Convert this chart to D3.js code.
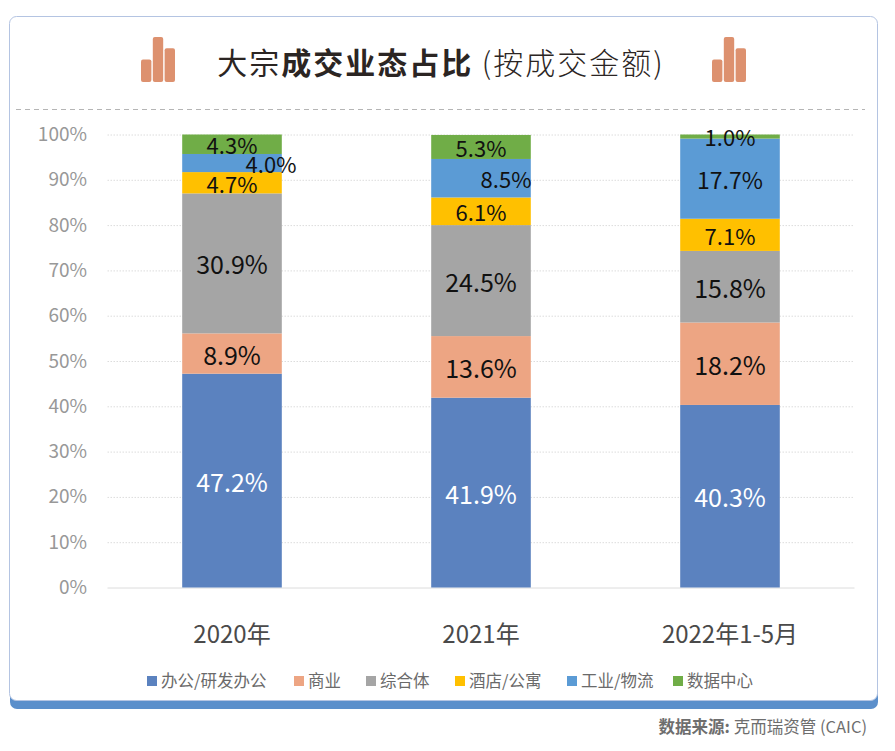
<!DOCTYPE html>
<html>
<head>
<meta charset="utf-8">
<style>
  html, body { margin: 0; padding: 0; background: #fff; }
  text { font-family: "Noto Sans CJK SC", "Noto Sans", sans-serif; }
</style>
</head>
<body>
<div id="chart"></div>
<script src="https://cdn.jsdelivr.net/npm/d3@7/dist/d3.min.js"></script>
<script>
const categories = ['2020年', '2021年', '2022年1-5月'];
const seriesNames = ['办公/研发办公', '商业', '综合体', '酒店/公寓', '工业/物流', '数据中心'];
const seriesColors = ['#5b82bf', '#eda583', '#a5a5a5', '#ffc000', '#5b9bd5', '#70ad47'];
const office = [47.2, 41.9, 40.3];
const retail = [8.9, 13.6, 18.2];
const mixed = [30.9, 24.5, 15.8];
const hotel = [4.7, 6.1, 7.1];
const industrial = [4.0, 8.5, 17.7];
const dataCenter = [4.3, 5.3, 1.0];
const seriesValues = [office, retail, mixed, hotel, industrial, dataCenter];
const yTicks = [0, 10, 20, 30, 40, 50, 60, 70, 80, 90, 100];
const iconHeights = [2, 4, 3];

const width = 895, height = 751;
const svg = d3.select('#chart').append('svg')
    .attr('width', width)
    .attr('height', height)
    .style('display', 'block');

// Card with the blue bottom edge
svg.append('rect')
    .attr('x', 10).attr('y', 60).attr('width', 868).attr('height', 649)
    .attr('rx', 7).attr('fill', '#5b8fcb');
svg.append('rect')
    .attr('x', 9.5).attr('y', 16.5).attr('width', 868).attr('height', 684)
    .attr('rx', 7).attr('fill', '#fff').attr('stroke', '#b4c4e2');

// Title
const title = svg.append('text')
    .attr('x', 441).attr('y', 74)
    .attr('text-anchor', 'middle')
    .attr('font-size', 30)
    .attr('fill', '#2b2523')
    .style('letter-spacing', '2px');
title.append('tspan').text('大宗');
title.append('tspan').attr('font-weight', 700).text('成交业态占比');
title.append('tspan').attr('font-weight', 300).text(' (按成交金额)');

// Small bar icons on both sides of the title
const iconX = d3.scaleBand().domain([0, 1, 2]).range([0, 34]).paddingInner(0.12);
const iconY = d3.scaleLinear().domain([0, 4]).range([82, 37]);
[141, 712].forEach(left => {
    svg.append('g')
        .attr('transform', `translate(${left},0)`)
        .selectAll('rect')
        .data(iconHeights)
        .join('rect')
        .attr('x', (d, i) => iconX(i))
        .attr('y', d => iconY(d))
        .attr('width', iconX.bandwidth())
        .attr('height', d => iconY(0) - iconY(d))
        .attr('rx', 2)
        .attr('fill', '#dd916f');
});

svg.append('line')
    .attr('x1', 16).attr('x2', 865).attr('y1', 109.5).attr('y2', 109.5)
    .attr('stroke', '#b5b5b5')
    .attr('stroke-dasharray', '5 4');

// Scales
const barX = d3.scaleBand().domain(categories).range([107.5, 854.5]).paddingInner(0.6).paddingOuter(0.3);
const y = d3.scaleLinear().domain([0, 100]).range([587.5, 134.5]);

// Gridlines
const grid = svg.append('g')
    .attr('transform', 'translate(107.5,0)')
    .call(d3.axisLeft(y).tickValues(yTicks).tickSize(-747).tickFormat(''));
grid.select('.domain').remove();
grid.selectAll('.tick line')
    .attr('stroke', '#dcdcdc')
    .attr('stroke-dasharray', d => d === 0 ? null : '1.5 1.5');

// Y axis labels
const yAxis = svg.append('g')
    .attr('transform', 'translate(87,0)')
    .call(d3.axisLeft(y).tickValues(yTicks).tickSize(0).tickPadding(0).tickFormat(d => d + '%'));
yAxis.select('.domain').remove();
yAxis.selectAll('text')
    .attr('font-size', 19)
    .attr('fill', '#989898')
    .style('font-family', '"Noto Sans CJK SC", sans-serif');

// Stacks
let base = categories.map(() => 0);
// two labels sit off centre in the original
const labelDx = { '4:0': 39, '4:1': 25 };
seriesValues.forEach((values, s) => {
    const rows = values.map((v, i) => ({ v, i, y0: base[i], y1: base[i] + v }));
    base = rows.map(r => r.y1);
    // the shares do not sum to exactly 100, so clamp the last stack to the scale
    const g = svg.append('g');
    g.selectAll('rect')
        .data(rows)
        .join('rect')
        .attr('x', d => barX(categories[d.i]))
        .attr('width', barX.bandwidth())
        .attr('y', d => y(Math.min(d.y1, 100)))
        .attr('height', d => y(d.y0) - y(Math.min(d.y1, 100)))
        .attr('fill', seriesColors[s]);
    g.selectAll('text')
        .data(rows)
        .join('text')
        .attr('x', d => barX(categories[d.i]) + barX.bandwidth() / 2 + (labelDx[s + ':' + d.i] || 0))
        .attr('y', d => y((d.y0 + Math.min(d.y1, 100)) / 2) + 2)
        .attr('dy', '0.36em')
        .attr('text-anchor', 'middle')
        .attr('font-size', d => s < 3 ? 25 : (d.v > 10 ? 23 : 22))
        .attr('fill', s === 0 ? '#fff' : '#111')
        .text(d => d.v.toFixed(1) + '%');
});

// Category labels
const xAxis = svg.append('g')
    .attr('transform', 'translate(0,587.5)')
    .call(d3.axisBottom(barX).tickSize(0).tickPadding(38));
xAxis.select('.domain').remove();
xAxis.selectAll('text')
    .attr('font-size', 24)
    .attr('fill', '#4a4a4a')
    .style('font-family', '"Noto Sans CJK SC", sans-serif');

// Legend
const legendX = [147, 294, 366, 455, 567, 673];
const legend = svg.append('g')
    .selectAll('g')
    .data(seriesNames)
    .join('g')
    .attr('transform', (d, i) => `translate(${legendX[i]},676)`);
legend.append('rect')
    .attr('width', 10).attr('height', 10)
    .attr('fill', (d, i) => seriesColors[i]);
legend.append('text')
    .attr('x', 14).attr('y', 11)
    .attr('font-size', 16.5)
    .attr('fill', '#6a6a6a')
    .text(d => d);

// Source
const source = svg.append('text')
    .attr('x', 867).attr('y', 733)
    .attr('text-anchor', 'end')
    .attr('font-size', 16.5)
    .attr('fill', '#6e6e6e');
source.append('tspan').attr('font-weight', 700).text('数据来源: ');
source.append('tspan').text('克而瑞资管 (CAIC)');
</script>
</body>
</html>
